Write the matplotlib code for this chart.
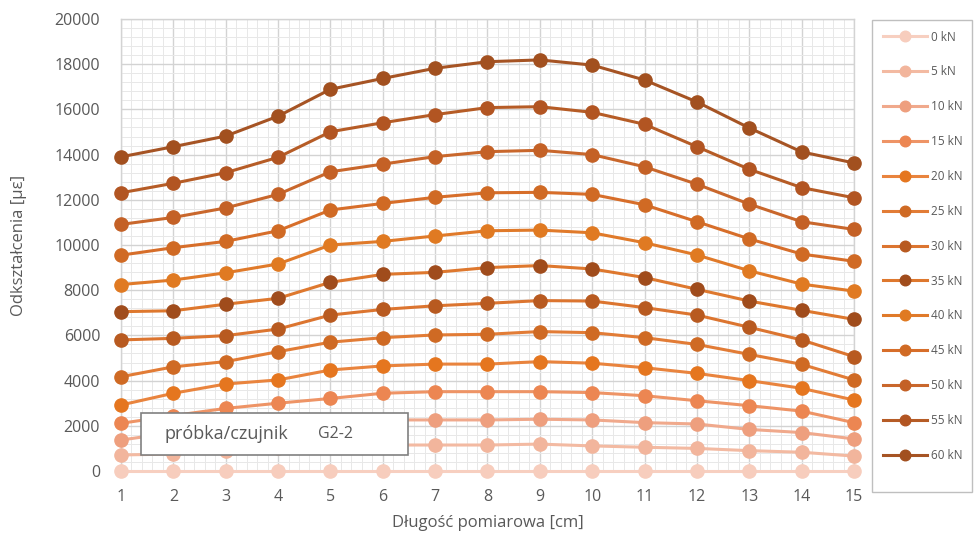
import matplotlib
matplotlib.use("Agg")
import matplotlib.pyplot as plt
from matplotlib.patches import Rectangle
from matplotlib.ticker import MultipleLocator

plt.rcParams['font.family'] = ['Open Sans', 'DejaVu Sans']

positions = list(range(1, 16))
loads = ["0 kN", "5 kN", "10 kN", "15 kN", "20 kN", "25 kN", "30 kN",
         "35 kN", "40 kN", "45 kN", "50 kN", "55 kN", "60 kN"]

s0 = [0, 0, 0, 0, 0, 0, 0, 0, 0, 0, 0, 0, 0, 0, 0]
s5 = [710, 750, 900, 1000, 1100, 1150, 1150, 1150, 1190, 1110, 1050, 1000, 900, 830, 660]
s10 = [1370, 1700, 1950, 2050, 2150, 2260, 2260, 2260, 2290, 2260, 2140, 2080, 1840, 1700, 1420]
s15 = [2110, 2450, 2770, 3000, 3210, 3440, 3510, 3510, 3510, 3470, 3330, 3110, 2890, 2650, 2140]
s20 = [2920, 3440, 3850, 4030, 4470, 4650, 4730, 4730, 4840, 4770, 4570, 4320, 4000, 3660, 3140]
s25 = [4170, 4610, 4840, 5280, 5700, 5900, 6020, 6050, 6170, 6120, 5900, 5600, 5160, 4720, 4030]
s30 = [5800, 5870, 5990, 6280, 6900, 7150, 7310, 7420, 7540, 7520, 7230, 6900, 6360, 5800, 5060]
s35 = [7050, 7090, 7380, 7640, 8350, 8700, 8790, 9000, 9090, 8940, 8560, 8040, 7520, 7110, 6710]
s40 = [8250, 8450, 8770, 9160, 10000, 10160, 10400, 10630, 10660, 10540, 10100, 9560, 8860, 8270, 7960]
s45 = [9550, 9880, 10160, 10630, 11550, 11840, 12110, 12310, 12330, 12240, 11780, 11030, 10270, 9600, 9280]
s50 = [10910, 11220, 11640, 12240, 13240, 13580, 13910, 14130, 14190, 14000, 13460, 12690, 11810, 11030, 10690]
s55 = [12310, 12730, 13200, 13880, 15010, 15410, 15770, 16080, 16120, 15870, 15340, 14350, 13350, 12540, 12090]
s60 = [13900, 14350, 14820, 15700, 16890, 17370, 17820, 18110, 18190, 17960, 17300, 16330, 15180, 14120, 13630]
series = [s0, s5, s10, s15, s20, s25, s30, s35, s40, s45, s50, s55, s60]

line_colors = ["#f7cfc0", "#f3baa2", "#f0a98c", "#ee9466", "#e9843e", "#e27c36",
               "#dc7530", "#de782e", "#e07a2a", "#d76e2a", "#c9672c", "#b65c26", "#a65424"]
marker_colors = ["#f7cdbd", "#f2b59c", "#ee9f7e", "#ec8652", "#e5761f", "#cf6a24",
                 "#b85a20", "#a04c1c", "#e07a22", "#d06a24", "#c46126", "#b25522", "#a2501f"]

W, H = 979, 537
fig = plt.figure(figsize=(W / 100, H / 100), dpi=100)
ax = fig.add_axes([121 / W, 1 - 471 / H, (854 - 121) / W, (471 - 19) / H])

for vals, lab, lc, mc in zip(series, loads, line_colors, marker_colors):
    ax.plot(positions, vals, color=lc, lw=2.2, marker="o", markersize=9.5,
            markerfacecolor=mc, markeredgecolor=mc, label=lab, clip_on=False, zorder=3)

ax.set_xlim(1, 15)
ax.set_ylim(0, 20000)
ax.xaxis.set_major_locator(MultipleLocator(1))
ax.xaxis.set_minor_locator(MultipleLocator(0.2))
ax.yaxis.set_major_locator(MultipleLocator(2000))
ax.yaxis.set_minor_locator(MultipleLocator(400))
ax.grid(which="major", color="#d3d3d3", lw=1.0, zorder=0)
ax.grid(which="minor", color="#e8e8e8", lw=0.7, zorder=0)
ax.set_axisbelow(True)
for sp in ax.spines.values():
    sp.set_color("#d3d3d3")
    sp.set_linewidth(1.0)
ax.tick_params(which="both", length=0)
ax.tick_params(axis="y", pad=15, labelsize=11.5, labelcolor="#595959")
ax.tick_params(axis="x", pad=13, labelsize=11.5, labelcolor="#595959")

fig.text(19 / W, 1 - 245 / H, "Odkształcenia [με]", rotation=90, ha="center", va="center",
         fontsize=12, color="#595959")
fig.text(488 / W, 1 - 523 / H, "Długość pomiarowa [cm]", ha="center", va="center",
         fontsize=12, color="#595959")

box = Rectangle((141 / W, 1 - 455 / H), (408 - 141) / W, (455 - 413) / H,
                transform=fig.transFigure, facecolor="white", edgecolor="#808080",
                lw=1.2, zorder=10, clip_on=False)
ax.add_artist(box)
ax.text(165 / W, 1 - 434 / H, "próbka/czujnik", transform=fig.transFigure, ha="left",
        va="center", fontsize=13, color="#595959", zorder=11)
ax.text(318 / W, 1 - 434 / H, "G2-2", transform=fig.transFigure, ha="left",
        va="center", fontsize=11.5, color="#595959", zorder=11)

# legend frame
fig.patches.append(Rectangle((872 / W, 1 - 492 / H), (972 - 872) / W, (492 - 20) / H,
                             transform=fig.transFigure, facecolor="white",
                             edgecolor="#bfbfbf", lw=1.0, zorder=0))
leg = fig.legend(loc="upper left", bbox_to_anchor=(872 / W, 1 - 20 / H), frameon=False,
                 fontsize=8.5, labelspacing=1.85, handlelength=3.8, handletextpad=0.3,
                 borderpad=0.9, borderaxespad=0, labelcolor="#595959",
                 markerscale=0.8)

fig.savefig("out.png", dpi=100)
